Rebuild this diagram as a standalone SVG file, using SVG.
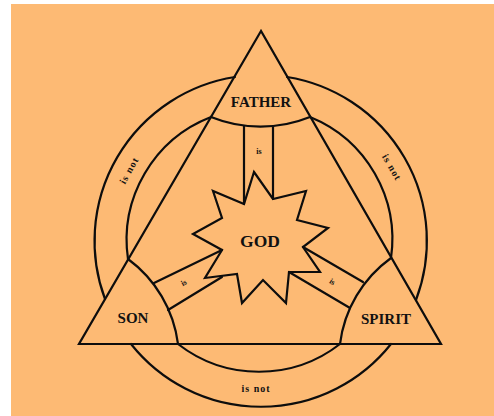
<svg xmlns="http://www.w3.org/2000/svg" width="494" height="416" viewBox="0 0 494 416">
<style>
.ln{fill:none;stroke:#0d0d0d;stroke-width:2.2;stroke-linejoin:miter;stroke-linecap:round}
.lbl{font-family:"Liberation Serif","Times New Roman",serif;font-weight:bold;fill:#111;text-anchor:middle}
.big{font-size:15px}
.sm{font-size:8px}
.not{font-size:10px;letter-spacing:1px}
</style>
<rect x="0" y="0" width="494" height="416" fill="#ffffff"/>
<rect x="11" y="4" width="483" height="412" fill="#fdba74"/>
<g id="triangle">
<polygon class="ln" points="261,31 79,344 441,344"/>
</g>
<g id="father">
<path class="ln" d="M211,117 A132,132 0 0 0 310,117"/>
<text class="lbl big" x="261" y="107">FATHER</text>
</g>
<g id="son">
<path class="ln" d="M128,259 A125,125 0 0 1 178,344"/>
<text class="lbl big" x="133" y="323">SON</text>
</g>
<g id="spirit">
<path class="ln" d="M391,258 A125,125 0 0 0 340,344"/>
<text class="lbl big" x="386" y="324">SPIRIT</text>
</g>
<g id="god">
<polygon class="ln" points="254,172 273,199 306,191 297,220 328,228 303,247 320,272 289,272 286,303 263,280 242,303 237,274 205,278 222,250 193,234 222,218 213,191 244,204"/>
<text class="lbl" x="260" y="247" font-size="17.5">GOD</text>
</g>
<g id="connectors">
<path class="ln" d="M244,126 V204 M273,126 V199"/>
<path class="ln" d="M154,283 L222,250 M168,310 L222,277"/>
<path class="ln" d="M303,247 L363,282 M289,272 L350,308"/>
<text class="lbl sm" x="259" y="154">is</text>
<text class="lbl sm" transform="translate(185,285) rotate(-28)">is</text>
<text class="lbl sm" transform="translate(331,284) rotate(30)">is</text>
<path class="ln" d="M128,259 A132,132 0 0 1 211,117"/>
<path class="ln" d="M310,117 A132,132 0 0 1 391,258"/>
<path class="ln" d="M340,344 A132,132 0 0 1 178,344"/>
<path class="ln" d="M105,299 A166,166 0 0 1 235,77"/>
<path class="ln" d="M287,77 A166,166 0 0 1 416,300"/>
<path class="ln" d="M391,344 A166,166 0 0 1 131,344"/>
<text class="lbl not" transform="translate(132,172) rotate(-61)">is not</text>
<text class="lbl not" transform="translate(389,169) rotate(60)">is not</text>
<text class="lbl not" x="256" y="392">is not</text>
</g>
</svg>
